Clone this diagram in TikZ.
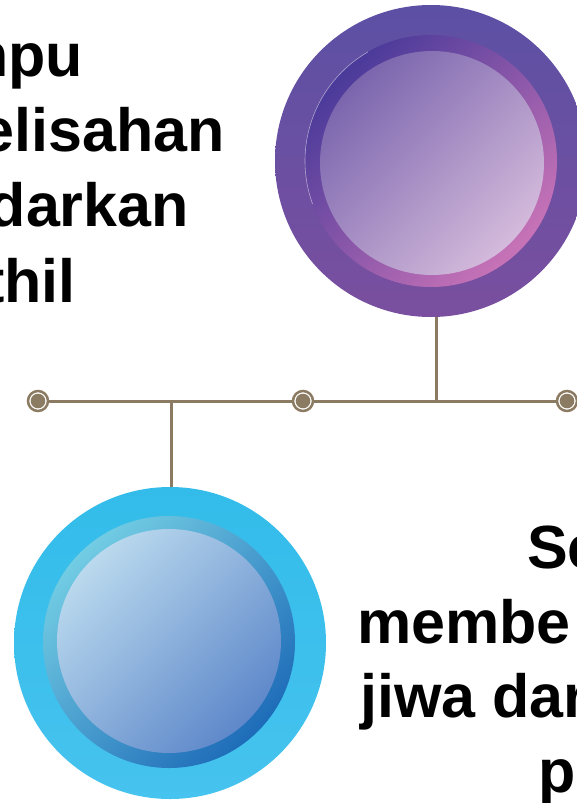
\documentclass[tikz,border=0pt]{standalone}
\usepackage{fontspec}
\setmainfont{Liberation Sans}
\definecolor{stemcolor}{HTML}{8C7B63}
\definecolor{plumout}{HTML}{5C50A4}
\definecolor{plumoutb}{HTML}{7A4F9F}
\definecolor{plummid}{HTML}{4A3A9A}
\definecolor{plummidb}{HTML}{C873B7}
\definecolor{plumin}{HTML}{7B66AE}
\definecolor{pluminb}{HTML}{D4BADB}
\definecolor{skyout}{HTML}{33BCEA}
\definecolor{skyoutb}{HTML}{46C3EE}
\definecolor{skymid}{HTML}{72CCE3}
\definecolor{skymidb}{HTML}{1E6CB8}
\definecolor{skyin}{HTML}{BAD9EE}
\definecolor{skyinb}{HTML}{5E88CA}
\begin{document}
\begin{tikzpicture}[x = 1pt, y = -1pt,
		stem/.style = {draw = stemcolor, line width = 3pt},
		marker/.style = {circle, draw = stemcolor, line width = 2.5pt, fill = white,
			minimum size = 20pt, inner sep = 0pt,
			path picture = {\fill [stemcolor] (path picture bounding box.center) circle [radius = 7.3pt];}},
		ball/.style = {circle, minimum size = 312pt, inner sep = 0pt, shading angle = 45},
		words/.style = {font = \fontsize{61}{75}\selectfont\bfseries, inner sep = 0pt}]
		\useasboundingbox (0,0) rectangle (577,803);
		\clip (0,0) rectangle (577,803);

		\node [ball, top color = plumout, bottom color = plumoutb] (purpleball) at (431,161) {};
		\shade [top color = plummid, bottom color = plummidb, shading angle = 45] (purpleball) circle [radius = 126pt];
		\draw [white, opacity = 0.5, line width = 0.6pt] (purpleball) ++(120:126pt) arc [start angle = 120, end angle = 200, radius = 126pt];
		\shade [top color = plumin, bottom color = pluminb, shading angle = 45] (432,163) circle [radius = 112pt];

		\node [ball, top color = skyout, bottom color = skyoutb] (blueball) at (170,643) {};
		\shade [top color = skymid, bottom color = skymidb, shading angle = 45] (169,642) circle [radius = 126pt];
		\shade [top color = skyin, bottom color = skyinb, shading angle = 45] (169,641) circle [radius = 112pt];

		\node [marker] (dotA) at (38,401) {};
		\node [marker] (dotB) at (303,401) {};
		\node [marker] (dotC) at (567,401) {};
		\coordinate (joinA) at (436,401);
		\coordinate (joinB) at (171,401);
		\draw [stem] (dotA) -- (dotB) -- (dotC);
		\draw [stem] (purpleball.south -| joinA) -- (joinA);
		\draw [stem] (joinB) -- (joinB |- blueball.north);

		\node [words, anchor = base east] (leftA) at (83,76) {mpu};
		\node [words, anchor = base east] (leftB) at (225,151) {elisahan};
		\node [words, anchor = base east] (leftC) at (189,226) {darkan};
		\node [words, anchor = base east] (leftD) at (76,302) {thil};

		\node [words, anchor = base west] (rightA) at (527,568) {Se};
		\node [words, anchor = base west] (rightB) at (357,643) {membe};
		\node [words, anchor = base west] (rightC) at (360,717) {jiwa dar};
		\node [words, anchor = base west] (rightD) at (538,792) {p};
	\end{tikzpicture}
\end{document}
